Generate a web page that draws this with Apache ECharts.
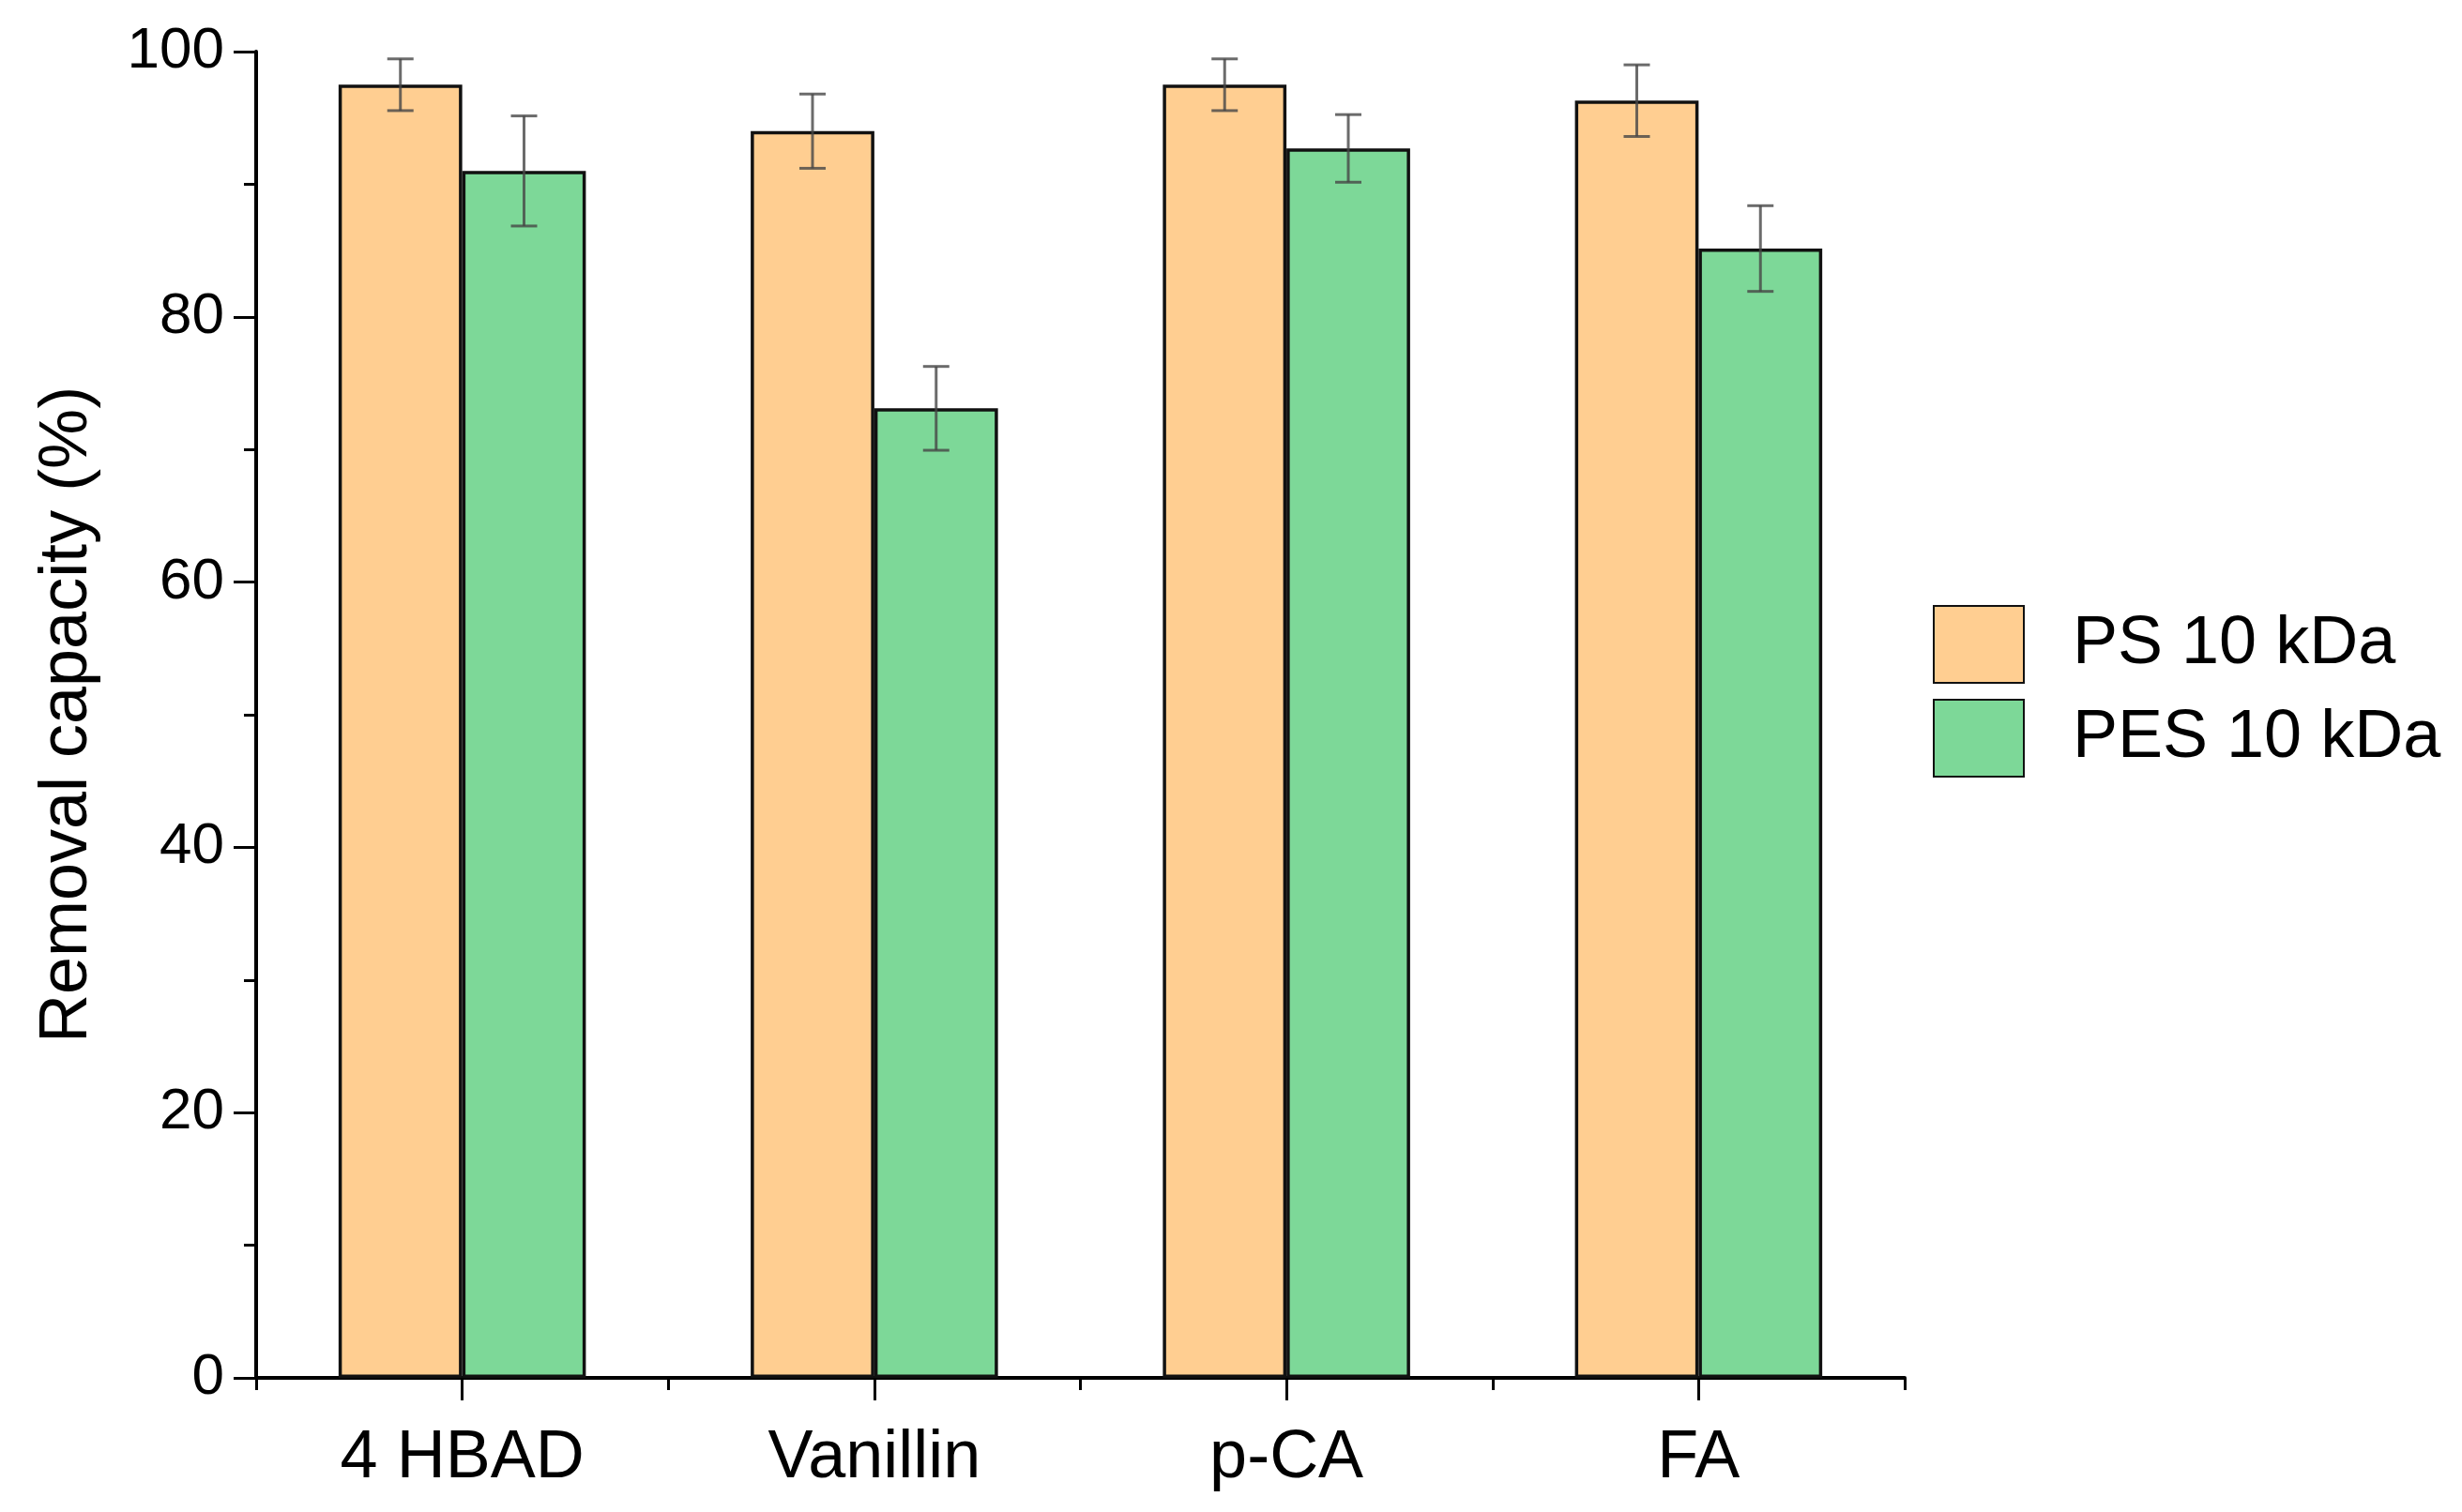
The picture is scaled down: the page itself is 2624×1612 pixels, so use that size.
<!DOCTYPE html>
<html>
<head>
<meta charset="utf-8">
<script src="https://cdn.jsdelivr.net/npm/echarts@6/dist/echarts.min.js"></script>
<style>
html,body{margin:0;padding:0;background:#fff;}
#chart{width:2624px;height:1612px;}
</style>
</head>
<body>
<div id="chart"></div>
<script>
const categories = ['4 HBAD', 'Vanillin', 'p-CA', 'FA'];
const seriesNames = ['PS 10 kDa', 'PES 10 kDa'];
const psValues = [97.5, 94.0, 97.5, 96.3];
const psErrors = [1.95, 2.8, 1.95, 2.7];
const pesValues = [91.0, 73.1, 92.7, 85.15];
const pesErrors = [4.15, 3.16, 2.55, 3.23];
const yTicks = [0, 20, 40, 60, 80, 100];

const FONT = '"Liberation Sans", Arial, Helvetica, sans-serif';
const chart = echarts.init(document.getElementById('chart'));

function errSeries(values, errors, sign) {
  return {
    type: 'custom',
    xAxisIndex: 0,
    yAxisIndex: 0,
    z: 10,
    silent: true,
    data: values.map((v, i) => [i, v, errors[i]]),
    renderItem: function (params, api) {
      const idx = api.value(0), v = api.value(1), e = api.value(2);
      const catW = api.size([1, 0])[0];
      const cx = api.coord([idx, v])[0] + sign * catW * 0.15;
      const top = api.coord([idx, v + e])[1];
      const bot = api.coord([idx, v - e])[1];
      const hw = 14;
      const st = { stroke: 'rgba(70,70,70,0.8)', lineWidth: 3 };
      return {
        type: 'group',
        children: [
          { type: 'line', shape: { x1: cx, y1: top, x2: cx, y2: bot }, style: st },
          { type: 'line', shape: { x1: cx - hw, y1: top, x2: cx + hw, y2: top }, style: st },
          { type: 'line', shape: { x1: cx - hw, y1: bot, x2: cx + hw, y2: bot }, style: st }
        ]
      };
    }
  };
}

chart.setOption({
  animation: false,
  backgroundColor: '#ffffff',
  textStyle: { fontFamily: FONT, color: '#000' },
  grid: { left: 273, right: 594, top: 55, bottom: 143, containLabel: false },
  legend: {
    orient: 'vertical',
    left: 2055,
    top: 640,
    itemWidth: 96,
    itemHeight: 82,
    itemGap: 16,
    icon: 'rect',
    data: seriesNames,
    textStyle: { fontFamily: FONT, fontSize: 72, color: '#000', padding: [0, 0, 0, 47] }
  },
  xAxis: [
    {
      type: 'category',
      data: categories,
      boundaryGap: true,
      axisLine: { show: true, lineStyle: { color: '#000', width: 4 } },
      axisTick: { show: true, alignWithLabel: true, length: 24, lineStyle: { color: '#000', width: 3 } },
      axisLabel: { show: true, fontFamily: FONT, fontSize: 72, color: '#000', margin: 50 },
      splitLine: { show: false }
    },
    {
      type: 'category',
      data: categories,
      position: 'bottom',
      boundaryGap: true,
      axisLine: { show: false },
      axisTick: { show: true, length: 13, lineStyle: { color: '#000', width: 3 } },
      axisLabel: { show: false },
      splitLine: { show: false }
    }
  ],
  yAxis: {
    type: 'value',
    min: 0,
    max: 100,
    interval: 20,
    name: 'Removal capacity (%)',
    nameLocation: 'middle',
    nameGap: 165,
    nameTextStyle: { fontFamily: FONT, fontSize: 72, color: '#000' },
    axisLine: { show: true, lineStyle: { color: '#000', width: 4 } },
    axisTick: { show: true, length: 24, lineStyle: { color: '#000', width: 3 } },
    minorTick: { show: true, splitNumber: 2, length: 13, lineStyle: { color: '#000', width: 3 } },
    axisLabel: {
      fontFamily: FONT, fontSize: 62, color: '#000', margin: 34,
      formatter: function (v) { return yTicks.indexOf(v) >= 0 ? String(v) : ''; }
    },
    splitLine: { show: false },
    minorSplitLine: { show: false }
  },
  series: [
    {
      name: seriesNames[0],
      type: 'bar',
      xAxisIndex: 0,
      data: psValues,
      barWidth: '30%',
      barGap: '0%',
      itemStyle: { color: '#FFCE91', borderColor: '#111', borderWidth: 3.5 }
    },
    {
      name: seriesNames[1],
      type: 'bar',
      xAxisIndex: 0,
      data: pesValues,
      barWidth: '30%',
      barGap: '0%',
      itemStyle: { color: '#7DD898', borderColor: '#111', borderWidth: 3.5 }
    },
    errSeries(psValues, psErrors, -1),
    errSeries(pesValues, pesErrors, 1)
  ]
});
</script>
</body>
</html>
